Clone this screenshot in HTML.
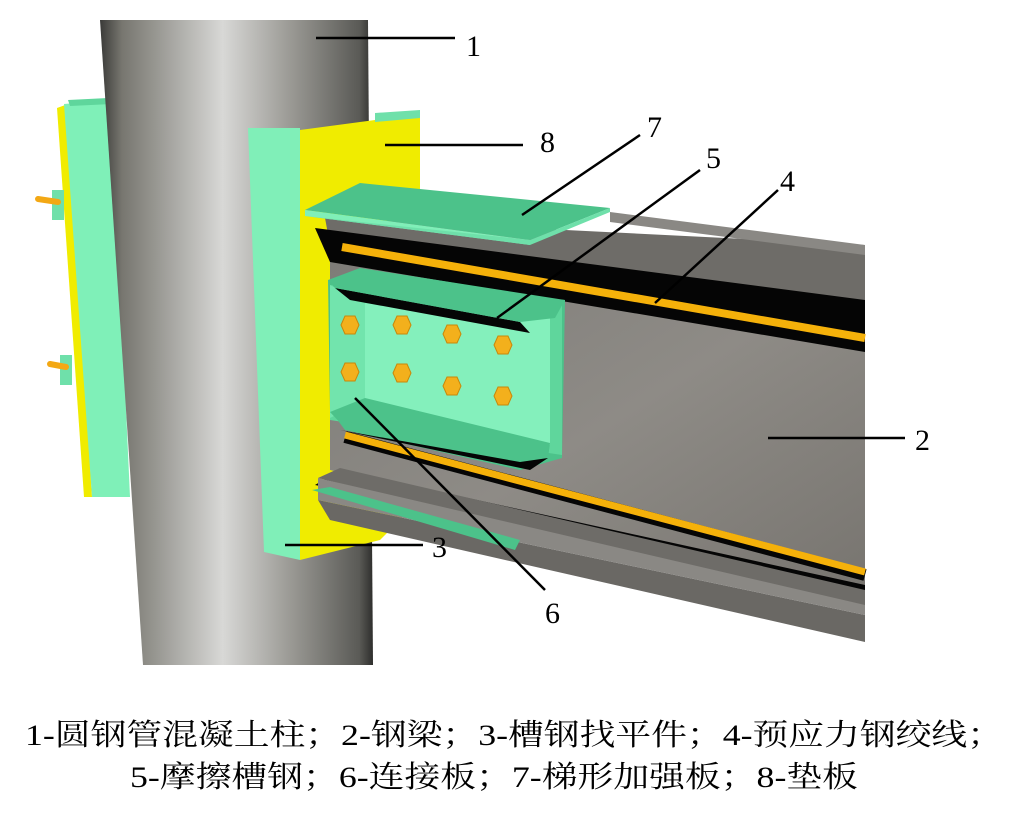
<!DOCTYPE html>
<html><head><meta charset="utf-8"><style>
html,body{margin:0;padding:0;background:#fff;}
svg{display:block;}
text{font-family:"Liberation Serif","Noto Serif CJK SC",serif;fill:#000;}
</style></head><body>
<svg width="1029" height="830" viewBox="0 0 1029 830" xmlns="http://www.w3.org/2000/svg">
<defs>
<linearGradient id="col" x1="0" x2="1" y1="0" y2="0">
<stop offset="0" stop-color="#3a3a38"/>
<stop offset="0.08" stop-color="#77766f"/>
<stop offset="0.45" stop-color="#d8d8d6"/>
<stop offset="0.7" stop-color="#9a9994"/>
<stop offset="0.95" stop-color="#5a5a56"/>
<stop offset="1" stop-color="#2e2e2c"/>
</linearGradient>
<linearGradient id="web" x1="0" x2="1" y1="0" y2="1">
<stop offset="0" stop-color="#7e7c78"/>
<stop offset="0.5" stop-color="#8e8b86"/>
<stop offset="1" stop-color="#77746f"/>
</linearGradient>
</defs>

<!-- left channel behind column -->
<polygon points="57,108 68,104 92,497 84,497" fill="#f0ec00"/>
<polygon points="64,104 112,100 130,497 92,497" fill="#7ff0b8"/>
<polygon points="68,100 108,98 112,104 70,106" fill="#5fd69c"/>
<rect x="52" y="190" width="12" height="30" fill="#6fe0aa"/>
<rect x="60" y="355" width="12" height="30" fill="#6fe0aa"/>
<line x1="38" y1="199" x2="58" y2="202" stroke="#f3a814" stroke-width="6" stroke-linecap="round"/>
<line x1="50" y1="364" x2="66" y2="367" stroke="#f3a814" stroke-width="6" stroke-linecap="round"/>

<!-- column -->
<polygon points="100,20 368,20 373,665 143,665" fill="url(#col)"/>

<!-- right channel (3) -->
<polygon points="300,130 375,120 420,113 420,500 380,540 300,560" fill="#f0ec00"/>
<polygon points="375,113 420,110 420,118 375,122" fill="#6fe0aa"/>
<polygon points="248,128 300,128 300,560 264,552" fill="#80efb8"/>

<!-- beam web -->
<polygon points="330,260 865,300 865,600 330,470" fill="url(#web)"/>
<!-- top flange -->
<polygon points="325,218 865,245 865,305 330,245" fill="#6e6c68"/>
<polygon points="610,212 865,245 865,255 610,222" fill="#8a8884"/>
<!-- black under top flange -->
<polygon points="315,228 865,300 865,352 330,262" fill="#050505"/>
<!-- upper strand -->
<line x1="342" y1="247" x2="865" y2="338" stroke="#f5b10a" stroke-width="8"/>
<!-- bottom flange -->
<polygon points="315,485 340,470 865,585 865,600" fill="#050505"/>
<polygon points="318,478 340,468 865,590 865,612" fill="#6e6c68"/>
<polygon points="318,500 865,615 865,642 330,520" fill="#6a6864"/>
<polygon points="318,478 318,500 865,615 865,605" fill="#8a8884"/>
<!-- lower strand -->
<line x1="345" y1="437" x2="865" y2="575" stroke="#050505" stroke-width="12"/>
<line x1="345" y1="435" x2="865" y2="572" stroke="#f5b10a" stroke-width="7"/>

<!-- bottom green plate -->
<polygon points="312,490 330,487 520,540 515,550" fill="#4cc28a"/>
<!-- top plate 7 -->
<polygon points="305,210 360,183 610,208 530,240" fill="#4cc28a"/>
<polygon points="305,210 530,240 530,245 305,216" fill="#80efb8"/>
<polygon points="305,216 530,245 610,212 610,208 530,240" fill="#6fe0aa"/>

<!-- friction channel 5 -->
<polygon points="328,280 360,268 565,300 562,458 520,470 345,430 330,410" fill="#4cc28a"/>
<polygon points="330,285 562,305 562,455 330,420" fill="#5fd69c"/>
<polygon points="365,303 550,318 550,445 365,400" fill="#84f0bc"/>
<polygon points="330,285 365,303 365,400 330,418" fill="#72e4ad"/>
<polygon points="335,288 520,322 530,333 350,300" fill="#050505"/>
<polygon points="330,412 365,398 550,443 548,458 345,428" fill="#4cc28a"/>
<polygon points="340,430 520,462 548,458 530,470" fill="#050505"/>
<polygon points="328,280 565,300 555,318 520,322 335,288" fill="#4cc28a"/>

<!-- bolts -->
<g fill="#f3b01c" stroke="#c8880a" stroke-width="1">
<polygon points="341,325 345,316 355,316 359,325 355,334 345,334"/>
<polygon points="393,325 397,316 407,316 411,325 407,334 397,334"/>
<polygon points="443,334 447,325 457,325 461,334 457,343 447,343"/>
<polygon points="494,345 498,336 508,336 512,345 508,354 498,354"/>
<polygon points="341,372 345,363 355,363 359,372 355,381 345,381"/>
<polygon points="393,373 397,364 407,364 411,373 407,382 397,382"/>
<polygon points="443,386 447,377 457,377 461,386 457,395 447,395"/>
<polygon points="494,396 498,387 508,387 512,396 508,405 498,405"/>
</g>

<!-- leaders -->
<g stroke="#000" stroke-width="2.5">
<line x1="316" y1="38" x2="455" y2="38"/>
<line x1="385" y1="145" x2="523" y2="145"/>
<line x1="522" y1="215" x2="640" y2="135"/>
<line x1="497" y1="318" x2="700" y2="170"/>
<line x1="655" y1="303" x2="778" y2="190"/>
<line x1="768" y1="438" x2="905" y2="438"/>
<line x1="285" y1="545" x2="423" y2="545"/>
<line x1="355" y1="398" x2="545" y2="590"/>
</g>
<g font-size="30">
<text x="466" y="56">1</text>
<text x="540" y="152">8</text>
<text x="647" y="137">7</text>
<text x="706" y="168">5</text>
<text x="780" y="191">4</text>
<text x="915" y="450">2</text>
<text x="432" y="557">3</text>
<text x="545" y="623">6</text>
</g>
<text x="25" y="745" font-size="30" textLength="978" lengthAdjust="spacingAndGlyphs">1-圆钢管混凝土柱；2-钢梁；3-槽钢找平件；4-预应力钢绞线；</text>
<text x="130" y="787" font-size="30" textLength="728" lengthAdjust="spacingAndGlyphs">5-摩擦槽钢；6-连接板；7-梯形加强板；8-垫板</text>
</svg>
</body></html>
